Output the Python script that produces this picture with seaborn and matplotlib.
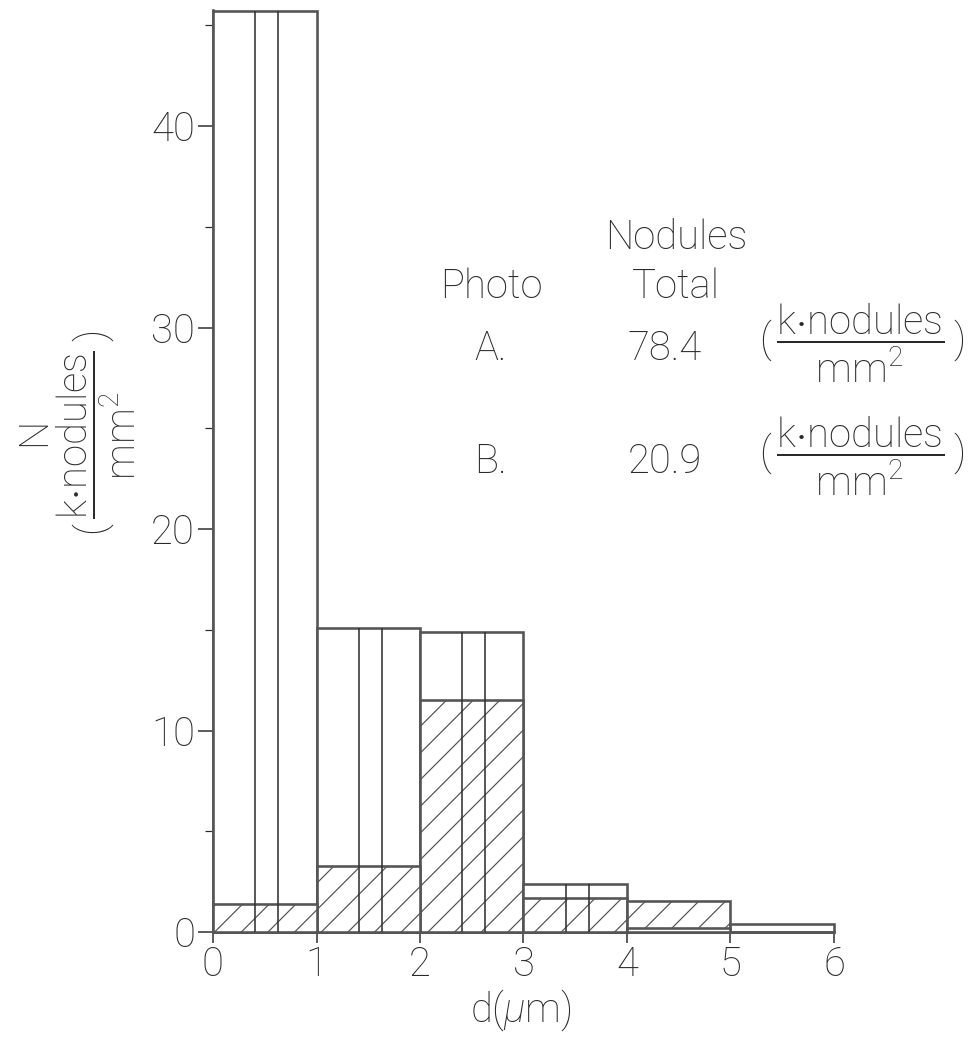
import matplotlib
matplotlib.use("Agg")
import matplotlib.pyplot as plt
from matplotlib.ticker import MultipleLocator, FixedLocator
import pandas as pd
import seaborn as sns

# Nodule size distribution, two photographs
bin_edges = [0, 1, 2, 3, 4, 5, 6]
photo_a = [45.7, 15.1, 14.9, 2.4, 0.2, 0.4]      # open bars
photo_b = [1.4, 3.3, 11.5, 1.7, 1.55, 0.0]       # hatched bars
x_ticks = [0, 1, 2, 3, 4, 5, 6]
y_ticks = [0, 10, 20, 30, 40]
photo_names = ["A.", "B."]
photo_totals = ["78.4", "20.9"]
sub_fracs = [0.41, 0.63]   # sub-division lines inside the first bins
n_subdivided = 4

sns.set_theme(style="white")
plt.rcParams["font.family"] = ["Roboto", "DejaVu Sans"]
plt.rcParams["font.weight"] = "light"
plt.rcParams["mathtext.fontset"] = "custom"
plt.rcParams["mathtext.rm"] = "Roboto:light"
plt.rcParams["mathtext.it"] = "Roboto:italic:light"
plt.rcParams["mathtext.bf"] = "Roboto:bold"
plt.rcParams["hatch.linewidth"] = 1.1
plt.rcParams["hatch.color"] = "#222222"

DPI = 80
W, H = 972, 1042
PT = 72 / DPI  # points per pixel
ink = "#2a2a2a"
edge = "#555555"

fig = plt.figure(figsize=(W / DPI, H / DPI), dpi=DPI)
ax = fig.add_axes([213 / W, 110 / H, 621 / W, 922 / H])

centers = [(l + r) / 2 for l, r in zip(bin_edges[:-1], bin_edges[1:])]
df = pd.DataFrame({
    "d": centers * 2,
    "N": photo_a + photo_b,
    "photo": ["A"] * len(centers) + ["B"] * len(centers),
})

for photo, hatch in [("A", None), ("B", "/")]:
    sub = df[df["photo"] == photo]
    n0 = len(ax.patches)
    sns.histplot(data=sub, x="d", weights="N", bins=bin_edges, stat="count",
                 element="bars", fill=True, color="white", alpha=1,
                 edgecolor=edge, linewidth=2.6 * PT, ax=ax)
    for p in ax.patches[n0:]:
        p.set_facecolor("white")
        p.set_edgecolor(edge)
        if hatch:
            p.set_hatch(hatch)
        # the shorter bar of each bin sits in front
        p.set_zorder(3 + 1 / (1 + p.get_height()))
        p.set_clip_on(False)

# thin sub-division lines inside the first bins
for i in range(n_subdivided):
    top = max(photo_a[i], photo_b[i])
    width = bin_edges[i + 1] - bin_edges[i]
    for f in sub_fracs:
        ax.vlines(bin_edges[i] + f * width, 0, top, color="#333333",
                  linewidth=1.6 * PT, zorder=5, clip_on=False)

ax.set_xlim(0, 6)
ax.set_ylim(0, 45.76)
ax.set_xlabel("")
ax.set_ylabel("")
sns.despine(ax=ax)
ax.spines["left"].set_color(edge)
ax.spines["left"].set_linewidth(2.6 * PT)
ax.spines["bottom"].set_color(edge)
ax.spines["bottom"].set_linewidth(2.6 * PT)

fs = 40 * PT

ax.xaxis.set_major_locator(FixedLocator(x_ticks))
ax.yaxis.set_major_locator(FixedLocator(y_ticks))
ax.yaxis.set_minor_locator(MultipleLocator(5))
ax.set_xticks(x_ticks)
ax.set_xticklabels([str(t) for t in x_ticks])
ax.set_yticks(y_ticks)
ax.set_yticklabels([str(t) for t in y_ticks])
ax.tick_params(axis="y", which="major", direction="out", length=15 * PT,
               width=1.5 * PT, color=ink, pad=3 * PT, labelsize=fs,
               labelcolor=ink, left=True)
ax.tick_params(axis="y", which="minor", direction="out", length=8 * PT,
               width=1.2 * PT, color=ink, left=True)
ax.tick_params(axis="x", which="major", direction="out", length=11 * PT,
               width=1.5 * PT, color=ink, pad=2 * PT, labelsize=fs,
               labelcolor=ink, bottom=True)


def fx(x):
    return x / W


def fy(y):
    return 1 - y / H


frac = r"$(\,\dfrac{\mathrm{k{\cdot}nodules}}{\mathrm{mm}^2}\,)$"

# axis titles
fig.text(fx(521), fy(1010), r"d($\mu$m)", ha="center", va="center",
         fontsize=fs, color=ink)
fig.text(fx(34), fy(432), "N", ha="center", va="center", rotation=90,
         fontsize=fs, color=ink)
fig.text(fx(96), fy(433), frac, ha="center", va="center", rotation=90,
         fontsize=fs, color=ink)

# totals table
fig.text(fx(676), fy(238), "Nodules", ha="center", va="center",
         fontsize=fs, color=ink)
fig.text(fx(491), fy(287), "Photo", ha="center", va="center",
         fontsize=fs, color=ink)
fig.text(fx(676), fy(287), "Total", ha="center", va="center",
         fontsize=fs, color=ink)
for row_y, name, total in zip([349, 462], photo_names, photo_totals):
    fig.text(fx(474), fy(row_y), name, ha="left", va="center",
             fontsize=fs, color=ink)
    fig.text(fx(665), fy(row_y), total, ha="center", va="center",
             fontsize=fs, color=ink)
    fig.text(fx(862), fy(row_y - 6), frac, ha="center", va="center",
             fontsize=fs, color=ink)

fig.savefig("out.png", dpi=DPI, facecolor="white")
